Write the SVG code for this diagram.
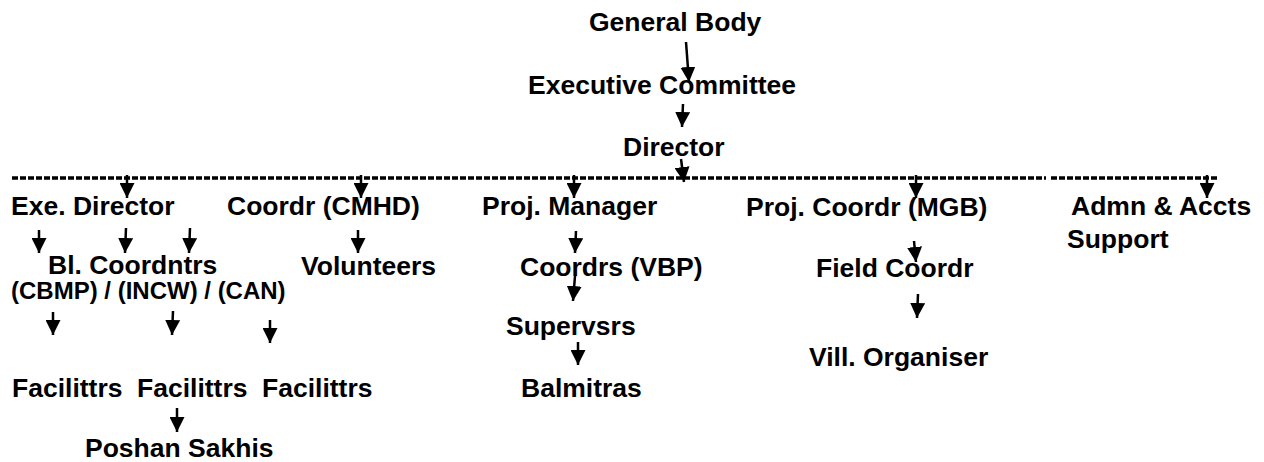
<svg xmlns="http://www.w3.org/2000/svg" width="1264" height="462" viewBox="0 0 1264 462">
<style>
text{font-family:"Liberation Sans",Arial,sans-serif;font-weight:bold;font-size:26.5px;fill:#000}
.sm{font-size:24px}
.c{stroke:#000;stroke-width:2.5;fill:none;marker-end:url(#ah)}
.d{stroke:#000;stroke-width:3.5;stroke-dasharray:6 2;fill:none}
</style>
<defs>
<marker id="ah" viewBox="0 0 15 15" refX="15" refY="7.5" markerWidth="15" markerHeight="15" markerUnits="userSpaceOnUse" orient="auto">
<path d="M0,0 L15,7.5 L0,15 z" fill="#000"/>
</marker>
</defs>
<rect width="1264" height="462" fill="#fff"/>
<g id="n-general-body"><text x="589" y="31">General Body</text></g>
<g id="n-executive-committee"><text x="528" y="94">Executive Committee</text></g>
<g id="n-director"><text x="623" y="156">Director</text></g>
<g id="n-exe-director"><text x="11" y="215">Exe. Director</text></g>
<g id="n-coordr-cmhd"><text x="227" y="215">Coordr (CMHD)</text></g>
<g id="n-proj-manager"><text x="482" y="215">Proj. Manager</text></g>
<g id="n-proj-coordr-mgb"><text x="746" y="216">Proj. Coordr (MGB)</text></g>
<g id="n-admn"><text x="1071" y="215">Admn &amp; Accts</text><text x="1067" y="248">Support</text></g>
<g id="n-bl-coordntrs"><text x="48" y="274">Bl. Coordntrs</text><text class="sm" x="11" y="299">(CBMP) / (INCW) / (CAN)</text></g>
<g id="n-volunteers"><text x="301" y="275">Volunteers</text></g>
<g id="n-coordrs-vbp"><text x="520" y="276">Coordrs (VBP)</text></g>
<g id="n-supervsrs"><text x="506" y="335">Supervsrs</text></g>
<g id="n-balmitras"><text x="521" y="397">Balmitras</text></g>
<g id="n-field-coordr"><text x="816" y="277">Field Coordr</text></g>
<g id="n-vill-organiser"><text x="809" y="366">Vill. Organiser</text></g>
<g id="n-facilittrs-1"><text x="12" y="397">Facilittrs</text></g>
<g id="n-facilittrs-2"><text x="137" y="397">Facilittrs</text></g>
<g id="n-facilittrs-3"><text x="262" y="397">Facilittrs</text></g>
<g id="n-poshan-sakhis"><text x="85" y="457">Poshan Sakhis</text></g>
<g id="connectors">
<path class="d" d="M12,178 H1046"/>
<path class="d" d="M1051,178 H1217"/>
<path class="c" d="M686,42 L689,82"/>
<path class="c" d="M683,104 L682,127"/>
<path class="c" d="M681,159 L684,182"/>
<path class="c" d="M127,175 V198"/>
<path class="c" d="M361,175 V198"/>
<path class="c" d="M574,175 V198"/>
<path class="c" d="M916,175 V198"/>
<path class="c" d="M1207,175 V198"/>
<path class="c" d="M39,230 V253"/>
<path class="c" d="M126,228 L125,253"/>
<path class="c" d="M190,228 L189,253"/>
<path class="c" d="M358,230 V253"/>
<path class="c" d="M576,231 L575,253"/>
<path class="c" d="M575,276 L573,301"/>
<path class="c" d="M578,342 V365"/>
<path class="c" d="M914,241 L916,262"/>
<path class="c" d="M918,294 L917,318"/>
<path class="c" d="M53,312 V335"/>
<path class="c" d="M173,311 L172,335"/>
<path class="c" d="M270,320 V343"/>
<path class="c" d="M177,408 V432"/>
</g>
</svg>
